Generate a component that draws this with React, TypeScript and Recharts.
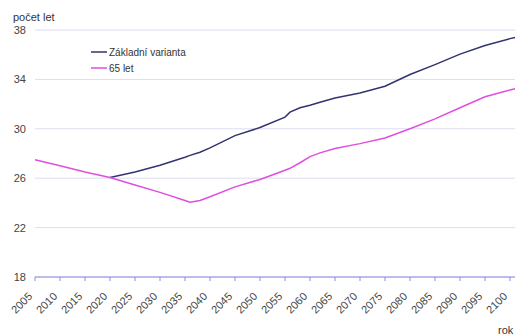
import React from "react";
import { LineChart, Line, XAxis, YAxis, CartesianGrid } from "recharts";

const years = [
  2005, 2010, 2015, 2020, 2025, 2030, 2035, 2036, 2038, 2040, 2045, 2050, 2055,
  2056, 2058, 2060, 2062, 2065, 2070, 2075, 2080, 2085, 2090, 2095, 2100, 2101,
];
const zakladni = [
  null, null, null, 26.05, 26.5, 27.05, 27.7, 27.85, 28.1, 28.45, 29.45, 30.1,
  30.95, 31.35, 31.7, 31.9, 32.15, 32.5, 32.9, 33.45, 34.4, 35.2, 36.05, 36.75,
  37.3, 37.4,
];
const let65 = [
  27.5, 27.0, 26.5, 26.05, 25.45, 24.85, 24.2, 24.05, 24.2, 24.5, 25.3, 25.9,
  26.65, 26.8, 27.25, 27.75, 28.05, 28.4, 28.8, 29.25, 30.0, 30.8, 31.7, 32.6,
  33.15, 33.25,
];
const xTicks = [
  2005, 2010, 2015, 2020, 2025, 2030, 2035, 2040, 2045, 2050, 2055, 2060, 2065,
  2070, 2075, 2080, 2085, 2090, 2095, 2100,
];
const yTicks = [18, 22, 26, 30, 34, 38];

const data = years.map((rok, i) => ({ rok, zakladni: zakladni[i], let65: let65[i] }));

const font = "'Liberation Sans', Arial, sans-serif";
const navy = "#33336f";
const pink = "#e04ee0";

const YearTick = (props: any) => {
  const { x, y, payload } = props;
  return (
    <g transform={`translate(${x - 2},${y + 14}) rotate(-45)`}>
      <text x={0} y={0} textAnchor="end" fontSize={11} fill="#444" fontFamily={font}>
        {payload.value}
      </text>
    </g>
  );
};

export default function App() {
  return (
    <div style={{ position: "absolute", left: 0, top: 0, width: 517, height: 336 }}>
      <LineChart
        width={517}
        height={336}
        data={data}
        margin={{ top: 30, right: 2, bottom: 10, left: 0 }}
      >
        <CartesianGrid horizontal vertical={false} stroke="#dcdcf4" />
        <XAxis
          dataKey="rok"
          type="number"
          domain={[2005, 2101]}
          ticks={xTicks}
          interval={0}
          height={49}
          stroke="#8c8ce0"
          tickSize={4}
          tickMargin={2}
          tick={<YearTick />}
        />
        <YAxis
          domain={[18, 38]}
          ticks={yTicks}
          width={35}
          axisLine={false}
          tickLine={false}
          tickSize={0}
          tickMargin={9}
          tick={{ fontSize: 11, fill: "#444", fontFamily: font }}
        />
        <Line
          dataKey="zakladni"
          type="linear"
          stroke={navy}
          strokeWidth={1.5}
          dot={false}
          isAnimationActive={false}
        />
        <Line
          dataKey="let65"
          type="linear"
          stroke={pink}
          strokeWidth={1.5}
          dot={false}
          isAnimationActive={false}
        />
      </LineChart>
      <svg
        width={120}
        height={30}
        style={{ position: "absolute", left: 89, top: 48 }}
      >
        <line x1={2} y1={4} x2={18} y2={4} stroke={navy} strokeWidth={1.5} />
        <text x={20} y={8} fontSize={10} fill="#333" fontFamily={font}>
          Základní varianta
        </text>
        <line x1={2} y1={20} x2={18} y2={20} stroke={pink} strokeWidth={1.5} />
        <text x={20} y={24} fontSize={10} fill="#333" fontFamily={font}>
          65 let
        </text>
      </svg>
      <div
        style={{
          position: "absolute",
          left: 13,
          top: 11,
          fontSize: 11,
          color: "#333",
          fontFamily: font,
        }}
      >
        počet let
      </div>
      <div
        style={{
          position: "absolute",
          left: 498,
          top: 324,
          fontSize: 11,
          color: "#333",
          fontFamily: font,
        }}
      >
        rok
      </div>
    </div>
  );
}
